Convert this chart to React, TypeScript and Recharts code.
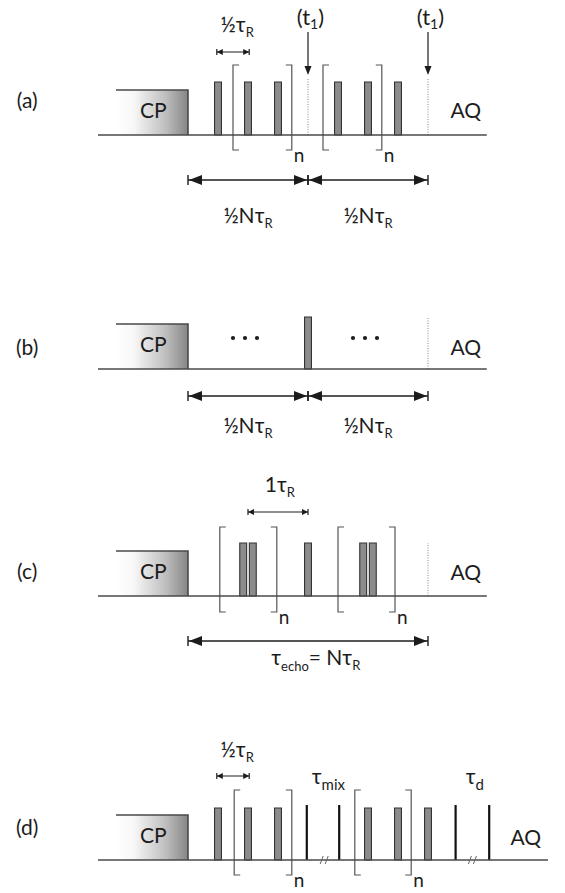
import React from "react"
import {
  ComposedChart, Line, XAxis, YAxis,
  ReferenceArea, ReferenceLine, ReferenceDot,
} from "recharts"

// time axis in units of tau_R, zero = end of the CP block
// amplitude axis in px above the rf baseline

const W = 565
const X_DOMAIN: [number, number] = [-188 / 60, 377 / 60]
const FONT = "Lato, 'Open Sans', 'DejaVu Sans', sans-serif"
const INK = "#1c1c1c"
const LINE = "#4a4a4a"

const CP_SPAN = [-1.2, 0]
const CP_HEIGHT = 45
const PULSE_W = 0.115

// (a) recoupling with t1 shift
const traceA = [-1.5, 4.98]
const pulsesA = [0.5, 1.0, 1.5, 2.5, 3.0, 3.5]
const bracketsA = [[0.75, 1.73], [2.25, 3.23]]
const t1MarksA = [2.0, 4.0]
const halvesA = [[0, 2], [2, 4]]

// (b) Hahn echo
const traceB = [-1.5, 4.98]
const pulsesB = [2.0]
const dotsB = [0.95, 2.95]
const halvesB = [[0, 2], [2, 4]]
const acqB = [4.0]

// (c) echo train
const traceC = [-1.5, 4.98]
const pulsesC = [0.92, 1.08, 2.0, 2.92, 3.08]
const bracketsC = [[0.53, 1.48], [2.5, 3.45]]
const acqC = [4.0]
const echoC = [[0, 4]]

// (d) exchange with mixing and z-filter delay
const traceD = [-1.5, 6.0]
const pulsesD = [0.5, 1.0, 1.5, 3.0, 3.5, 4.0]
const hardD = [1.98, 2.52, 4.46, 5.02]
const bracketsD = [[0.77, 1.73], [2.78, 3.72]]
const breaksD = [2.27, 4.74]

const cpShape = (id: string) => (p: any) => {
  const { x, y, width, height } = p
  return (
    <g>
      <defs>
        <linearGradient id={id} x1="0" y1="0" x2="1" y2="0">
          <stop offset="0" stopColor="#ffffff" />
          <stop offset="0.25" stopColor="#f7f7f7" />
          <stop offset="0.7" stopColor="#bdbdbd" />
          <stop offset="1" stopColor="#858585" />
        </linearGradient>
      </defs>
      <rect x={x} y={y} width={width} height={height} fill={`url(#${id})`} />
      <path d={`M${x},${y} H${x + width} V${y + height}`} fill="none" stroke={LINE} strokeWidth={1.6} />
    </g>
  )
}

const bracketShape = (p: any) => {
  const { x, y, width, height } = p
  const s = 6
  const r = x + width
  return (
    <g>
      <path d={`M${x + s},${y} H${x} V${y + height} H${x + s}`} fill="none" stroke="#555" strokeWidth={1.2} />
      <path d={`M${r - s},${y} H${r} V${y + height} H${r - s}`} fill="none" stroke="#555" strokeWidth={1.2} />
      <text x={r + 2} y={y + height + 12} fontFamily={FONT} fontSize={19} fill={INK}>n</text>
    </g>
  )
}

const dimArrow = (p: any) => {
  const { x1, x2, y1 } = p
  const y = y1
  const hl = 13, hw = 5
  return (
    <g>
      <line x1={x1} y1={y} x2={x2} y2={y} stroke={INK} strokeWidth={1.4} />
      <line x1={x1} y1={y - 5} x2={x1} y2={y + 5} stroke={INK} strokeWidth={1.4} />
      <line x1={x2} y1={y - 5} x2={x2} y2={y + 5} stroke={INK} strokeWidth={1.4} />
      <polygon points={`${x1 + 1},${y} ${x1 + 1 + hl},${y - hw} ${x1 + 1 + hl},${y + hw}`} fill={INK} />
      <polygon points={`${x2 - 1},${y} ${x2 - 1 - hl},${y - hw} ${x2 - 1 - hl},${y + hw}`} fill={INK} />
    </g>
  )
}

const smallArrow = (p: any) => {
  const { x1, x2, y1 } = p
  const y = y1
  const hl = 6, hw = 3
  return (
    <g>
      <line x1={x1} y1={y} x2={x2} y2={y} stroke={INK} strokeWidth={1.2} />
      <line x1={x1} y1={y - 3} x2={x1} y2={y + 3} stroke={INK} strokeWidth={1.2} />
      <line x1={x2} y1={y - 3} x2={x2} y2={y + 3} stroke={INK} strokeWidth={1.2} />
      <polygon points={`${x1},${y} ${x1 + hl},${y - hw} ${x1 + hl},${y + hw}`} fill={INK} />
      <polygon points={`${x2},${y} ${x2 - hl},${y - hw} ${x2 - hl},${y + hw}`} fill={INK} />
    </g>
  )
}

const downArrow = (p: any) => {
  const { x1, y1, y2 } = p
  return (
    <g>
      <line x1={x1} y1={y1} x2={x1} y2={y2 - 6} stroke={INK} strokeWidth={1.2} />
      <polygon points={`${x1},${y2} ${x1 - 3.5},${y2 - 9} ${x1 + 3.5},${y2 - 9}`} fill={INK} />
    </g>
  )
}

const breakShape = (p: any) => {
  const { cx, cy } = p
  return (
    <g stroke="#666" strokeWidth={1}>
      <line x1={cx - 4} y1={cy + 4} x2={cx - 1} y2={cy - 4} />
      <line x1={cx + 1} y1={cy + 4} x2={cx + 4} y2={cy - 4} />
    </g>
  )
}

const dotsShape = (p: any) => {
  const { cx, cy } = p
  return (
    <g fill={INK}>
      <circle cx={cx - 12} cy={cy} r={2.1} />
      <circle cx={cx} cy={cy} r={2.1} />
      <circle cx={cx + 12} cy={cy} r={2.1} />
    </g>
  )
}

const label = (content: React.ReactNode, size = 21, anchor: "middle" | "start" = "middle") =>
  (p: any) => (
    <text x={p.cx} y={p.cy} textAnchor={anchor} fontFamily={FONT} fontSize={size} fill={INK}>
      {content}
    </text>
  )

const halfTauR = <>½τ<tspan fontSize={13} dy={5}>R</tspan></>
const halfNTauR = <>½Nτ<tspan fontSize={13} dy={5}>R</tspan></>
const t1Text = <>(t<tspan fontSize={14} dy={4}>1</tspan><tspan dy={-4}>)</tspan></>

function pulseAreas(ts: number[], h: number, key: string) {
  return ts.map((t, i) => (
    <ReferenceArea
      key={`${key}${i}`}
      x1={t - PULSE_W / 2}
      x2={t + PULSE_W / 2}
      y1={0}
      y2={h}
      fill="#8c8c8c"
      fillOpacity={1}
      stroke="#333"
      strokeWidth={1.1}
    />
  ))
}

function Panel({ height, base, trace, id, children }: {
  height: number; base: number; trace: number[]; id: string; children: React.ReactNode
}) {
  const data = [{ t: trace[0], v: 0 }, { t: trace[1], v: 0 }]
  return (
    <ComposedChart width={W} height={height} data={data} margin={{ top: 0, right: 0, bottom: 0, left: 0 }}>
      <XAxis type="number" dataKey="t" domain={X_DOMAIN} hide allowDataOverflow />
      <YAxis type="number" domain={[base - height, base]} hide allowDataOverflow />
      <ReferenceArea x1={CP_SPAN[0]} x2={CP_SPAN[1]} y1={0} y2={CP_HEIGHT} shape={cpShape(`cp-${id}`)} />
      <ReferenceDot x={-0.58} y={17} shape={label("CP")} />
      {children}
      <Line dataKey="v" stroke={LINE} strokeWidth={1.6} dot={false} activeDot={false} isAnimationActive={false} />
    </ComposedChart>
  )
}

export default function App() {
  return (
    <div style={{ position: "absolute", left: 0, top: 0, width: W, height: 893, background: "#fff" }}>
      <Panel height={240} base={135} trace={traceA} id="a">
        <ReferenceDot x={-2.68} y={27} shape={label("(a)")} />
        <ReferenceDot x={4.63} y={17} shape={label("AQ")} />
        {bracketsA.map(([o, c], i) => (
          <ReferenceArea key={`ba${i}`} x1={o} x2={c} y1={-15} y2={70} shape={bracketShape} />
        ))}
        {pulseAreas(pulsesA, 53, "pa")}
        {t1MarksA.map((t, i) => (
          <ReferenceLine key={`da${i}`} segment={[{ x: t, y: 0 }, { x: t, y: 57 }]}
            stroke="#888" strokeWidth={1} strokeDasharray="1 1.5" />
        ))}
        {t1MarksA.map((t, i) => (
          <ReferenceLine key={`aa${i}`} segment={[{ x: t, y: 103 }, { x: t, y: 60 }]} shape={downArrow} />
        ))}
        {t1MarksA.map((t, i) => (
          <ReferenceDot key={`ta${i}`} x={t + 0.04} y={110} shape={label(t1Text, 22)} />
        ))}
        <ReferenceDot x={0.82} y={103} shape={label(halfTauR)} />
        <ReferenceLine segment={[{ x: 0.48, y: 83 }, { x: 1.02, y: 83 }]} shape={smallArrow} />
        {halvesA.map(([s, e], i) => (
          <ReferenceLine key={`ha${i}`} segment={[{ x: s, y: -45 }, { x: e, y: -45 }]} shape={dimArrow} />
        ))}
        {halvesA.map(([s, e], i) => (
          <ReferenceDot key={`la${i}`} x={(s + e) / 2} y={-88} shape={label(halfNTauR)} />
        ))}
      </Panel>

      <Panel height={215} base={129} trace={traceB} id="b">
        <ReferenceDot x={-2.68} y={14} shape={label("(b)")} />
        <ReferenceDot x={4.63} y={14} shape={label("AQ")} />
        {pulseAreas(pulsesB, 52, "pb")}
        {dotsB.map((t, i) => (
          <ReferenceDot key={`db${i}`} x={t} y={31} shape={dotsShape} />
        ))}
        {acqB.map((t, i) => (
          <ReferenceLine key={`qb${i}`} segment={[{ x: t, y: 0 }, { x: t, y: 52 }]}
            stroke="#888" strokeWidth={1} strokeDasharray="1 1.5" />
        ))}
        {halvesB.map(([s, e], i) => (
          <ReferenceLine key={`hb${i}`} segment={[{ x: s, y: -27 }, { x: e, y: -27 }]} shape={dimArrow} />
        ))}
        {halvesB.map(([s, e], i) => (
          <ReferenceDot key={`lb${i}`} x={(s + e) / 2} y={-64} shape={label(halfNTauR)} />
        ))}
      </Panel>

      <Panel height={235} base={141} trace={traceC} id="c">
        <ReferenceDot x={-2.68} y={17} shape={label("(c)")} />
        <ReferenceDot x={4.63} y={16} shape={label("AQ")} />
        {bracketsC.map(([o, c], i) => (
          <ReferenceArea key={`bc${i}`} x1={o} x2={c} y1={-16} y2={69} shape={bracketShape} />
        ))}
        {pulseAreas(pulsesC, 53, "pc")}
        {acqC.map((t, i) => (
          <ReferenceLine key={`qc${i}`} segment={[{ x: t, y: 0 }, { x: t, y: 53 }]}
            stroke="#888" strokeWidth={1} strokeDasharray="1 1.5" />
        ))}
        <ReferenceDot x={1.53} y={104} shape={label(<>1τ<tspan fontSize={13} dy={5}>R</tspan></>)} />
        <ReferenceLine segment={[{ x: 1.0, y: 84 }, { x: 2.0, y: 84 }]} shape={smallArrow} />
        {echoC.map(([s, e], i) => (
          <ReferenceLine key={`ec${i}`} segment={[{ x: s, y: -45 }, { x: e, y: -45 }]} shape={dimArrow} />
        ))}
        <ReferenceDot x={2.13} y={-69} shape={label(
          <>τ<tspan fontSize={13} dy={6}>echo</tspan><tspan dy={-6}>= Nτ</tspan><tspan fontSize={13} dy={5}>R</tspan></>
        )} />
      </Panel>

      <Panel height={203} base={170} trace={traceD} id="d">
        <ReferenceDot x={-2.68} y={25} shape={label("(d)")} />
        <ReferenceDot x={5.63} y={15} shape={label("AQ")} />
        {bracketsD.map(([o, c], i) => (
          <ReferenceArea key={`bd${i}`} x1={o} x2={c} y1={-15} y2={70} shape={bracketShape} />
        ))}
        {pulseAreas(pulsesD, 52, "pd")}
        {hardD.map((t, i) => (
          <ReferenceLine key={`hd${i}`} segment={[{ x: t, y: 0 }, { x: t, y: 55 }]} stroke="#111" strokeWidth={2.2} />
        ))}
        {breaksD.map((t, i) => (
          <ReferenceDot key={`kd${i}`} x={t} y={0} shape={breakShape} />
        ))}
        <ReferenceDot x={0.82} y={103} shape={label(halfTauR)} />
        <ReferenceLine segment={[{ x: 0.48, y: 84 }, { x: 1.02, y: 84 }]} shape={smallArrow} />
        <ReferenceDot x={2.34} y={76} shape={label(<>τ<tspan fontSize={15} dy={6}>mix</tspan></>)} />
        <ReferenceDot x={4.78} y={76} shape={label(<>τ<tspan fontSize={15} dy={6}>d</tspan></>)} />
      </Panel>
    </div>
  )
}
